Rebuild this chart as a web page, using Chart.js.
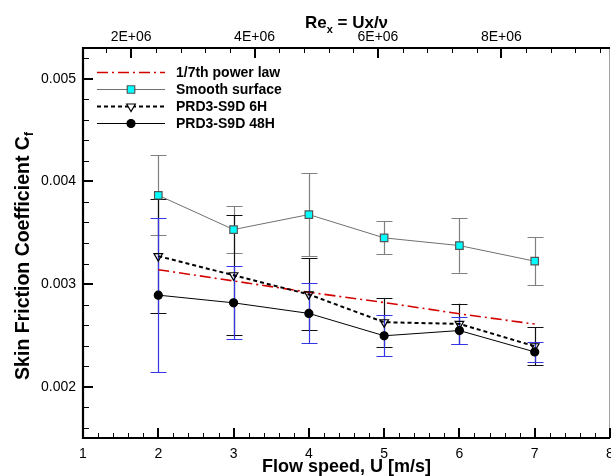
<!DOCTYPE html>
<html><head><meta charset="utf-8">
<script src="https://cdn.jsdelivr.net/npm/chart.js@4.4.1/dist/chart.umd.min.js"></script>
<style>html,body{margin:0;padding:0;background:#fff;overflow:hidden;}</style>
</head><body><canvas id="c" width="611" height="476"></canvas>
<script>
// ---- data ----
const speeds = [2, 3, 4, 5, 6, 7];
const powerLaw = [0.00314, 0.00303, 0.00292, 0.00282, 0.00271, 0.00261];
const smooth = [0.003865, 0.003531, 0.003677, 0.003450, 0.003375, 0.003223];
const smoothErr = [0.000389, 0.000227, 0.000405, 0.000160, 0.000264, 0.000233];
const prd6H = [0.003272, 0.003086, 0.002899, 0.002628, 0.002612, 0.002394];
const prd6HErr = [0.000554, 0.000584, 0.000350, 0.000237, 0.000195, 0.000185];
const prd48H = [0.002892, 0.002817, 0.002714, 0.002496, 0.002547, 0.002339];
const prd48HErr = [0.000749, 0.000356, 0.000292, 0.000199, 0.000128, 0.000094];
const seriesNames = ['1/7th power law', 'Smooth surface', 'PRD3-S9D 6H', 'PRD3-S9D 48H'];
const xTicks = [1, 2, 3, 4, 5, 6, 7, 8];
const yTicks = [0.002, 0.003, 0.004, 0.005];
const reTicks = [2e6, 4e6, 6e6, 8e6];
const reRange = [1.22e6, 9.76e6];
const xRange = [1, 8];
const yRange = [0.0015, 0.0053];

const FONT = '"Liberation Sans", Arial, Helvetica, sans-serif';
const pts = arr => speeds.map((s, i) => ({x: s, y: arr[i]}));
const fmtRe = v => { const e = Math.floor(Math.log10(v)); const m = Math.round(v / Math.pow(10, e)); return m + 'E+' + String(e).padStart(2, '0'); };

const styles = [
  {color: '#d40000', width: 1.6, dash: [11, 4, 2, 4], point: null},
  {color: '#707070', width: 1, dash: [], point: {style: 'rect', r: 5.3, fill: '#00ffff', stroke: '#555555', rot: 0}},
  {color: '#000000', width: 2, dash: [4, 3], point: {style: 'triangle', r: 5, fill: 'rgba(255,255,255,0)', stroke: '#000000', rot: 180}},
  {color: '#000000', width: 1, dash: [], point: {style: 'circle', r: 4, fill: '#000000', stroke: '#000000', rot: 0}}
];
const errSets = [
  {vals: smooth, err: smoothErr, color: '#808080'},
  {vals: prd6H, err: prd6HErr, color: '#111111'},
  {vals: prd48H, err: prd48HErr, color: '#3535e8'}
];

const errorBars = {
  id: 'errorBars',
  beforeDatasetsDraw(chart) {
    const {ctx} = chart; const xs = chart.scales.x, ys = chart.scales.y;
    ctx.save();
    ctx.setLineDash([]);
    errSets.forEach(s => {
      ctx.strokeStyle = s.color; ctx.lineWidth = 1.2;
      speeds.forEach((sp, i) => {
        const px = Math.round(xs.getPixelForValue(sp)) + 0.5;
        const top = ys.getPixelForValue(s.vals[i] + s.err[i]);
        const bot = ys.getPixelForValue(s.vals[i] - s.err[i]);
        ctx.beginPath();
        ctx.moveTo(px, top); ctx.lineTo(px, bot);
        ctx.moveTo(px - 8, Math.round(top) + 0.5); ctx.lineTo(px + 8, Math.round(top) + 0.5);
        ctx.moveTo(px - 8, Math.round(bot) + 0.5); ctx.lineTo(px + 8, Math.round(bot) + 0.5);
        ctx.stroke();
      });
    });
    ctx.restore();
  }
};

function tickLine(ctx, x0, y0, x1, y1, w) {
  ctx.lineWidth = w;
  ctx.beginPath(); ctx.moveTo(x0, y0); ctx.lineTo(x1, y1); ctx.stroke();
}

const frame = {
  id: 'frame',
  afterDraw(chart) {
    const {ctx, chartArea: a} = chart; const xs = chart.scales.x, ys = chart.scales.y, x2 = chart.scales.x2;
    ctx.save();
    ctx.setLineDash([]); ctx.globalAlpha = 1; ctx.globalCompositeOperation = 'source-over';
    ctx.lineCap = 'butt';
    ctx.strokeStyle = '#a0a0a0';
    tickLine(ctx, a.right - 0.5, a.top, a.right - 0.5, a.bottom, 1);
    ctx.strokeStyle = '#000000';
    for (let i = 0; i <= 35; i++) {
      const major = i % 5 === 0;
      const p = Math.round(xs.getPixelForValue(xRange[0] + i * 0.2));
      if (major) tickLine(ctx, p, a.bottom, p, a.bottom - 10, 2);
      else tickLine(ctx, p + 0.5, a.bottom, p + 0.5, a.bottom - 5, 1);
    }
    for (let i = 4; i <= 24; i++) {
      const v = i * 4e5; if (v < reRange[0] || v > reRange[1]) continue;
      const major = i % 5 === 0;
      const p = Math.round(x2.getPixelForValue(v));
      if (major) tickLine(ctx, p, a.top, p, a.top + 10, 2);
      else tickLine(ctx, p + 0.5, a.top, p + 0.5, a.top + 5, 1);
    }
    for (let i = 8; i <= 26; i++) {
      const v = i * 0.0002; if (v < yRange[0] || v > yRange[1]) continue;
      const major = i % 5 === 0;
      const p = Math.round(ys.getPixelForValue(v));
      if (major) tickLine(ctx, a.left, p, a.left + 10, p, 2);
      else tickLine(ctx, a.left, p + 0.5, a.left + 6, p + 0.5, 1);
    }
    ctx.lineWidth = 2.2;
    ctx.beginPath();
    ctx.moveTo(a.right, a.top); ctx.lineTo(a.left, a.top); ctx.lineTo(a.left, a.bottom); ctx.lineTo(a.right, a.bottom);
    ctx.stroke();

    // axis titles
    ctx.fillStyle = '#000';
    const cx = (a.left + a.right) / 2;
    ctx.textBaseline = 'alphabetic';
    ctx.font = 'bold 18px ' + FONT; ctx.textAlign = 'center';
    ctx.fillText('Flow speed, U [m/s]', cx, 472);
    const TF = 'bold 17px ' + FONT, SF = 'bold 11px ' + FONT;
    const t1 = 'Re', t2 = 'x', t3 = ' = Ux/\u03BD';
    ctx.font = TF; const w1 = ctx.measureText(t1).width; const w3 = ctx.measureText(t3).width;
    ctx.font = SF; const w2 = ctx.measureText(t2).width;
    const sx = cx - (w1 + w2 + w3) / 2;
    ctx.textAlign = 'left';
    ctx.font = TF; ctx.fillText(t1, sx, 28);
    ctx.font = SF; ctx.fillText(t2, sx + w1, 33);
    ctx.font = TF; ctx.fillText(t3, sx + w1 + w2, 28);
    ctx.save();
    ctx.translate(29, 256); ctx.rotate(-Math.PI / 2);
    const YF = 'bold 19.5px ' + FONT, YS = 'bold 12px ' + FONT;
    const y1 = 'Skin Friction Coefficient C', y2 = 'f';
    ctx.font = YF; const wy1 = ctx.measureText(y1).width;
    ctx.font = YS; const wy2 = ctx.measureText(y2).width;
    const sy = -(wy1 + wy2) / 2;
    ctx.font = YF; ctx.fillText(y1, sy, 0);
    ctx.font = YS; ctx.fillText(y2, sy + wy1, 4);
    ctx.restore();

    // legend
    const rows = [72.5, 89.5, 106.5, 123.5];
    styles.forEach((st, i) => {
      const yy = rows[i];
      ctx.strokeStyle = st.color; ctx.lineWidth = st.width; ctx.setLineDash(st.dash);
      ctx.beginPath(); ctx.moveTo(97, yy); ctx.lineTo(165, yy); ctx.stroke();
      ctx.setLineDash([]);
      if (st.point) {
        ctx.fillStyle = st.point.style === 'triangle' ? '#ffffff' : st.point.fill;
        ctx.strokeStyle = st.point.stroke; ctx.lineWidth = 1.2;
        Chart.helpers.drawPoint(ctx, {pointStyle: st.point.style, radius: st.point.r, rotation: st.point.rot, borderWidth: 1.2}, 131, yy);
      }
      ctx.fillStyle = '#000'; ctx.font = 'bold 14px ' + FONT; ctx.textAlign = 'left'; ctx.textBaseline = 'middle';
      ctx.fillText(seriesNames[i], 176, yy + 0.5);
    });
    ctx.restore();
  }
};

const series = [powerLaw, smooth, prd6H, prd48H];
const datasets = series.map((arr, i) => {
  const st = styles[i];
  return {
    label: seriesNames[i], data: pts(arr), xAxisID: 'x', yAxisID: 'y',
    borderColor: st.color, borderWidth: st.width, borderDash: st.dash, tension: 0, fill: false,
    pointStyle: st.point ? st.point.style : false,
    pointRadius: st.point ? st.point.r : 0,
    pointRotation: st.point ? st.point.rot : 0,
    pointBackgroundColor: st.point ? st.point.fill : st.color,
    pointBorderColor: st.point ? st.point.stroke : st.color,
    pointBorderWidth: 1.2,
    order: [4, 3, 2, 1][i]
  };
});

const tickFont = {family: FONT, size: 14};
new Chart(document.getElementById('c'), {
  type: 'line',
  data: {datasets},
  options: {
    responsive: false, animation: false, devicePixelRatio: 1,
    layout: {autoPadding: false, padding: {left: 0, right: 1, top: 0, bottom: 0}},
    plugins: {legend: {display: false}, tooltip: {enabled: false}},
    scales: {
      x: {
        type: 'linear', position: 'bottom', min: xRange[0], max: xRange[1],
        afterBuildTicks: s => { s.ticks = xTicks.map(v => ({value: v})); },
        afterFit: s => { s.height = 38; s.paddingLeft = 0; s.paddingRight = 0; },
        ticks: {font: tickFont, color: '#000', padding: 8, maxRotation: 0, autoSkip: false, callback: v => String(v)},
        grid: {display: false, drawTicks: false}, border: {display: false}
      },
      x2: {
        type: 'linear', position: 'top', min: reRange[0], max: reRange[1],
        afterBuildTicks: s => { s.ticks = reTicks.map(v => ({value: v})); },
        afterFit: s => { s.height = 48; s.paddingLeft = 0; s.paddingRight = 0; },
        ticks: {font: tickFont, color: '#000', padding: 2, maxRotation: 0, autoSkip: false, callback: v => fmtRe(v)},
        grid: {display: false, drawTicks: false}, border: {display: false}
      },
      y: {
        type: 'linear', position: 'left', min: yRange[0], max: yRange[1],
        afterBuildTicks: s => { s.ticks = yTicks.map(v => ({value: v})); },
        afterFit: s => { s.width = 83; s.paddingTop = 0; s.paddingBottom = 0; },
        ticks: {font: tickFont, color: '#000', padding: 7, autoSkip: false, callback: v => v.toFixed(3)},
        grid: {display: false, drawTicks: false}, border: {display: false}
      }
    }
  },
  plugins: [errorBars, frame]
});
</script>
</body></html>
